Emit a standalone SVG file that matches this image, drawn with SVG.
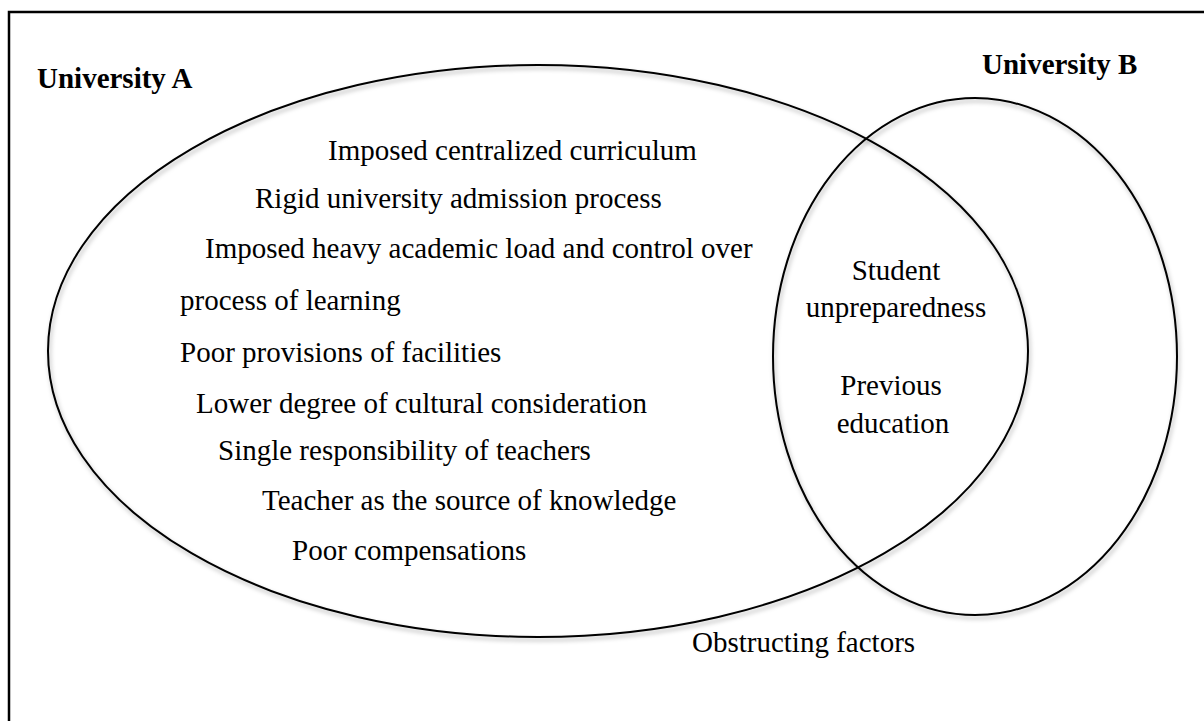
<svg xmlns="http://www.w3.org/2000/svg" width="1204" height="721" viewBox="0 0 1204 721">
<style>
.t{font-family:'Liberation Serif','Times New Roman',Tinos,'DejaVu Serif',serif;font-size:29px;fill:#000}
.b{font-weight:bold}
.e{fill:none;stroke:#000;stroke-width:2}
</style>
<defs>
<filter id="sh" x="-5%" y="-5%" width="110%" height="115%">
<feDropShadow dx="1.5" dy="3" stdDeviation="2" flood-color="#000" flood-opacity="0.3"/>
</filter>
</defs>
<rect x="0" y="0" width="1204" height="721" fill="#fff"/>
<rect x="9" y="12" width="1220" height="740" fill="none" stroke="#000" stroke-width="2.5"/>
<g id="universityA" font-family="Liberation Serif, serif">
<ellipse class="e" cx="538" cy="351" rx="490" ry="286" filter="url(#sh)"/>
<text class="t b" x="37" y="88">University A</text>
<text class="t" x="328" y="160">Imposed centralized curriculum</text>
<text class="t" x="255" y="208">Rigid university admission process</text>
<text class="t" x="205" y="258">Imposed heavy academic load and control over</text>
<text class="t" x="180" y="310">process of learning</text>
<text class="t" x="180" y="362">Poor provisions of facilities</text>
<text class="t" x="196" y="413">Lower degree of cultural consideration</text>
<text class="t" x="218" y="460">Single responsibility of teachers</text>
<text class="t" x="262" y="510">Teacher as the source of knowledge</text>
<text class="t" x="292" y="560">Poor compensations</text>
</g>
<g id="universityB">
<ellipse class="e" cx="975" cy="356.5" rx="202" ry="258.5" filter="url(#sh)"/>
<text class="t b" x="982" y="74">University B</text>
</g>
<g id="overlap">
<text class="t" x="896" y="280" text-anchor="middle">Student</text>
<text class="t" x="896" y="317" text-anchor="middle">unpreparedness</text>
<text class="t" x="891" y="395" text-anchor="middle">Previous</text>
<text class="t" x="893" y="433" text-anchor="middle">education</text>
</g>
<g id="caption">
<text class="t" x="692" y="652">Obstructing factors</text>
</g>
<g id="connectors"/>
</svg>
